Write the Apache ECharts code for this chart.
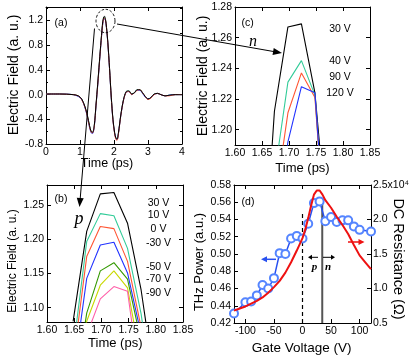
<!DOCTYPE html>
<html><head><meta charset="utf-8">
<script src="https://cdn.jsdelivr.net/npm/echarts@6/dist/echarts.min.js"></script>
<style>html,body{margin:0;padding:0;background:#fff;}#c{width:413px;height:362px;}</style>
</head><body><div id="c"></div>
<script>
// ---------- panel (a): full waveforms ----------
const aTime = [0, 0.4, 0.8, 0.95, 1.05, 1.15, 1.22, 1.28, 1.33, 1.37, 1.42, 1.47, 1.52, 1.57, 1.62, 1.67, 1.7, 1.72, 1.75, 1.78, 1.82, 1.87, 1.92, 1.97, 2.02, 2.06, 2.09, 2.13, 2.2, 2.28, 2.36, 2.44, 2.52, 2.6, 2.68, 2.76, 2.84, 2.92, 3.0, 3.08, 3.18, 3.28, 3.38, 3.5, 3.62, 3.8, 4.0];
const aBlack = [0.01,0.01,0.0,-0.02,-0.07,-0.2,-0.34,-0.5,-0.6,-0.61,-0.5,-0.17,0.17,0.53,0.88,1.19,1.26,1.27,1.22,1.09,0.84,0.42,-0.04,-0.4,-0.62,-0.71,-0.72,-0.62,-0.33,-0.08,0.05,0.06,0.01,0.03,0.08,0.08,0.03,-0.03,-0.07,-0.05,0.01,0.02,0.0,-0.02,-0.01,0.0,0.0];
const aGreen = [0.01,0.01,0.0,-0.02,-0.07,-0.21,-0.35,-0.51,-0.6,-0.62,-0.5,-0.18,0.16,0.52,0.87,1.17,1.24,1.25,1.21,1.08,0.83,0.41,-0.05,-0.41,-0.63,-0.71,-0.73,-0.63,-0.33,-0.08,0.05,0.06,0.01,0.03,0.08,0.08,0.03,-0.03,-0.07,-0.05,0.01,0.02,0.0,-0.02,-0.01,0.0,0.0];
const aRed = [0.01,0.01,0.0,-0.02,-0.08,-0.21,-0.36,-0.52,-0.61,-0.62,-0.51,-0.18,0.15,0.51,0.86,1.16,1.23,1.24,1.21,1.08,0.83,0.41,-0.05,-0.42,-0.64,-0.73,-0.74,-0.64,-0.34,-0.09,0.04,0.05,0.0,0.03,0.07,0.08,0.03,-0.03,-0.08,-0.06,0.0,0.02,0.0,-0.02,-0.02,0.0,0.0];
const aBlue = [0.01,0.01,0.0,-0.03,-0.08,-0.22,-0.37,-0.53,-0.62,-0.63,-0.52,-0.19,0.14,0.5,0.85,1.15,1.22,1.23,1.2,1.07,0.82,0.4,-0.06,-0.42,-0.63,-0.72,-0.73,-0.63,-0.34,-0.09,0.04,0.05,0.0,0.03,0.07,0.07,0.02,-0.04,-0.07,-0.05,0.0,0.02,0.0,-0.02,-0.01,0.0,0.0];
const aXTicks = ['0','1','2','3','4'];
const aYTicks = ['-0.8','-0.4','0.0','0.4','0.8','1.2'];

// ---------- panels (b),(c): zoom on the peak ----------
const zTime = [1.648, 1.673, 1.698, 1.723, 1.748, 1.773, 1.798];
const b30V  = [1.080, 1.212, 1.267, 1.269, 1.224, 1.126, 0.99];
const b10V  = [1.037, 1.197, 1.238, 1.235, 1.187, 1.091, 0.95];
const b0V   = [1.020, 1.175, 1.219, 1.216, 1.168, 1.071, 0.93];
const bm30V = [0.998, 1.143, 1.192, 1.196, 1.151, 1.061, 0.92];
const bm50V = [0.960, 1.092, 1.154, 1.166, 1.142, 1.050, 0.91];
const bm70V = [0.950, 1.080, 1.133, 1.154, 1.129, 1.020, 0.90];
const bm90V = [0.930, 1.060, 1.113, 1.131, 1.124, 0.980, 0.88];
const bNames = ['30 V','10 V','0 V','-30 V','-50 V','-70 V','-90 V'];
const c30V  = [1.080, 1.212, 1.267, 1.269, 1.224, 1.126, 0.99];
const c40V  = [1.080, 1.170, 1.231, 1.245, 1.2225, 1.100, 0.98];
const c90V  = [1.060, 1.150, 1.211, 1.237, 1.221, 1.100, 0.98];
const c120V = [1.040, 1.130, 1.192, 1.228, 1.224, 1.100, 0.98];
const cNames = ['30 V','40 V','90 V','120 V'];
const zXTicks = ['1.60','1.65','1.70','1.75','1.80','1.85'];
const bYTicks = ['1.10','1.15','1.20','1.25'];
const cYTicks = ['1.20','1.22','1.24','1.26','1.28'];

// ---------- panel (d): gate voltage ----------
const dGate  = [-120,-100,-90,-80,-70,-60,-50,-40,-30,-20,-10,0,10,20,30,40,50,60,70,80,90,100,120];
const dPower = [0.431,0.444,0.445,0.452,0.464,0.460,0.472,0.501,0.500,0.518,0.521,0.518,0.535,0.559,0.561,0.538,0.543,0.537,0.539,0.539,0.532,0.528,0.526];
const dResV  = [-120,-110,-100,-90,-80,-70,-60,-50,-40,-30,-20,-10,0,5,10,15,20,25,30,35,40,50,60,70,80,90,100,110,120];
const dRes   = [0.68,0.71,0.74,0.78,0.82,0.87,0.94,1.02,1.11,1.23,1.38,1.55,1.73,1.86,2.02,2.2,2.36,2.42,2.42,2.36,2.28,2.17,2.04,1.92,1.79,1.63,1.48,1.38,1.28];
const dXTicks  = ['-100','-50','0','50','100'];
const dYTicks  = ['0.42','0.44','0.46','0.48','0.50','0.52','0.54','0.56','0.58'];
const dY2Ticks = ['0.5','1.0','1.5','2.0','2.5x10\u2074'];

// ---------- helpers ----------
const FONT = "'Liberation Sans', Arial, sans-serif";
const NARROW = "'Liberation Sans Narrow', 'Liberation Sans', Arial, sans-serif";
const fmt = ticks => v => { const t = ticks.find(s => Math.abs(parseFloat(s) - v) < 1e-6); return t === undefined ? '' : t; };
const pairs = (xs, ys) => xs.map((x, i) => [x, ys[i]]);

function xAx(grid, pos, min, max, interval, ticks, extra) {
  return Object.assign({
    type: 'value', gridIndex: grid, position: pos, min, max, interval,
    axisLine: { show: true, onZero: false, lineStyle: { color: '#000', width: 1 } },
    axisTick: { show: true, inside: true, length: 4, lineStyle: { color: '#000' } },
    splitLine: { show: false },
    axisLabel: { show: !!ticks, formatter: ticks ? fmt(ticks) : null, color: '#000', fontSize: 10.5, fontFamily: FONT, margin: 3, showMinLabel: true, showMaxLabel: true }
  }, extra || {});
}
function yAx(grid, pos, min, max, interval, ticks, extra) {
  return Object.assign({
    type: 'value', gridIndex: grid, position: pos, min, max, interval,
    axisLine: { show: true, onZero: false, lineStyle: { color: '#000', width: 1 } },
    axisTick: { show: true, inside: true, length: 4, lineStyle: { color: '#000' } },
    splitLine: { show: false },
    axisLabel: { show: !!ticks, formatter: ticks ? fmt(ticks) : null, color: '#000', fontSize: 10.5, fontFamily: FONT, margin: 3 }
  }, extra || {});
}
function ln(xi, yi, xs, ys, color, w, extra) {
  return Object.assign({ type: 'line', xAxisIndex: xi, yAxisIndex: yi, data: pairs(xs, ys), showSymbol: false, symbol: 'none',
    lineStyle: { color, width: w }, itemStyle: { color }, clip: true, silent: true, z: 3 }, extra || {});
}
function arrow(x1, y1, x2, y2, color, lw, L, W) {
  const a = Math.atan2(y2 - y1, x2 - x1), c = Math.cos(a), s = Math.sin(a);
  const bx = x2 - L * c, by = y2 - L * s;
  return [
    { type: 'line', shape: { x1, y1, x2: bx + 1 * c, y2: by + 1 * s }, style: { stroke: color, lineWidth: lw }, z: 100 },
    { type: 'polygon', shape: { points: [[x2, y2], [bx - W * s, by + W * c], [bx + W * s, by - W * c]] }, style: { fill: color }, z: 100 }
  ];
}
function txt(x, y, text, size, opts) {
  return Object.assign({ type: 'text', x, y, z: 100,
    style: Object.assign({ text, fontSize: size, fontFamily: FONT, fill: '#000', align: 'center', verticalAlign: 'middle' }, (opts && opts.style) || {}) },
    opts && opts.rot !== undefined ? { rotation: opts.rot } : {});
}

const BLACK = '#000000', TEAL = '#33cc99', ORANGE = '#ff5533', BLUE = '#2233ff', DGREEN = '#339900', YGREEN = '#c8d800', PINK = '#ff5fa8';

const option = {
  animation: false,
  backgroundColor: '#fff',
  textStyle: { fontFamily: FONT },
  grid: [
    { left: 46, top: 7, width: 136, height: 137 },   // (a)
    { left: 235, top: 7, width: 135, height: 138 },  // (c)
    { left: 47, top: 185, width: 136, height: 137 }, // (b)
    { left: 234, top: 185, width: 137, height: 138 } // (d)
  ],
  xAxis: [
    xAx(0, 'bottom', 0, 4, 1, aXTicks),
    xAx(0, 'top', 0, 4, 1, null),
    xAx(1, 'bottom', 1.6, 1.85, 0.05, zXTicks, {}),
    xAx(1, 'top', 1.6, 1.85, 0.05, null),
    xAx(2, 'bottom', 1.6, 1.85, 0.05, zXTicks),
    xAx(2, 'top', 1.6, 1.85, 0.05, null),
    xAx(3, 'bottom', -120, 120, undefined, dXTicks),
    xAx(3, 'top', -120, 120, undefined, null)
  ],
  yAxis: [
    yAx(0, 'left', -0.8, 1.42, 0.4, aYTicks, { minorTick: { show: true, splitNumber: 2, length: 2, lineStyle: { color: '#000' } } }),
    yAx(0, 'right', -0.8, 1.42, 0.4, null, { minorTick: { show: true, splitNumber: 2, length: 2, lineStyle: { color: '#000' } } }),
    yAx(1, 'left', 1.19, 1.28, undefined, cYTicks),
    yAx(1, 'right', 1.19, 1.28, undefined, null),
    yAx(2, 'left', 1.079, 1.28, undefined, bYTicks),
    yAx(2, 'right', 1.079, 1.28, undefined, null),
    yAx(3, 'left', 0.42, 0.58, 0.02, dYTicks),
    yAx(3, 'right', 0.5, 2.5, 0.5, dY2Ticks)
  ],
  series: [
    // (a)
    ln(0, 0, aTime, aGreen, TEAL, 1, { smooth: 0.3 }),
    ln(0, 0, aTime, aBlue, BLUE, 1, { smooth: 0.3 }),
    ln(0, 0, aTime, aRed, ORANGE, 1, { smooth: 0.3 }),
    ln(0, 0, aTime, aBlack, BLACK, 1, { smooth: 0.3 }),
    // (c)
    ln(2, 2, zTime, c30V, BLACK, 1.1),
    ln(2, 2, zTime, c40V, TEAL, 1.1),
    ln(2, 2, zTime, c90V, ORANGE, 1.1),
    ln(2, 2, zTime, c120V, BLUE, 1.1),
    // (b)
    ln(4, 4, zTime, b30V, BLACK, 1.1),
    ln(4, 4, zTime, b10V, TEAL, 1.1),
    ln(4, 4, zTime, b0V, ORANGE, 1.1),
    ln(4, 4, zTime, bm30V, BLUE, 1.1),
    ln(4, 4, zTime, bm50V, DGREEN, 1.1),
    ln(4, 4, zTime, bm70V, YGREEN, 1.1),
    ln(4, 4, zTime, bm90V, PINK, 1.1),
    // (d)
    ln(6, 6, [0, 0], [0.42, 0.549], '#000', 1.2, { lineStyle: { color: '#000', width: 1.2, type: [4, 3] } }),
    ln(6, 6, [34.6, 34.6], [0.42, 0.562], '#555', 2),
    { type: 'line', xAxisIndex: 6, yAxisIndex: 6, data: pairs(dGate, dPower), symbol: 'emptyCircle', symbolSize: 8, showSymbol: true,
      lineStyle: { color: '#2850f0', width: 1.5 }, itemStyle: { color: '#5585ff', borderColor: '#5585ff', borderWidth: 0.9 }, silent: true, z: 3 },
    ln(6, 7, dResV, dRes, '#ee1111', 2, { z: 4 })
  ],
  graphic: [].concat(
    // dashed ellipse around peak
    [{ type: 'circle', x: 105.5, y: 21, scaleX: 9.5 / 11.7, shape: { cx: 0, cy: 0, r: 11.7 }, style: { fill: 'none', stroke: '#000', lineWidth: 1, lineDash: [3, 2], strokeNoScale: true }, z: 100 }],
    arrow(117, 24, 282, 53, '#000', 1, 9, 3.5),
    arrow(94.5, 28.5, 79.5, 207, '#000', 1, 9, 3.5),
    [txt(253, 42, 'n', 16, { style: { fontFamily: "'Liberation Serif', serif", fontStyle: 'italic' } }),
     txt(79, 219, 'p', 18, { style: { fontFamily: "'Liberation Serif', serif", fontStyle: 'italic' } })],
    // (d) arrows
    arrow(276, 259.3, 261, 259.3, '#2850f0', 1.5, 6, 3),
    arrow(348, 242, 364.5, 242, '#ee1111', 1.5, 6, 3),
    arrow(318, 257.3, 308, 257.3, '#000', 1, 4, 2.5),
    arrow(323, 257.3, 335, 257.3, '#000', 1, 4, 2.5),
    [txt(314.5, 267, 'p', 11, { style: { fontFamily: "'Liberation Serif', serif", fontStyle: 'italic', fontWeight: 'bold' } }),
     txt(328, 267, 'n', 11, { style: { fontFamily: "'Liberation Serif', serif", fontStyle: 'italic', fontWeight: 'bold' } })],
    // panel labels
    [txt(61, 23, '(a)', 10.5), txt(247.5, 23.3, '(c)', 10.5), txt(61, 199, '(b)', 10.5), txt(248, 202, '(d)', 10.5)],
    // voltage labels
    cNames.map((s, i) => txt(340, [29.3, 61, 76.7, 92.7][i], s, 10.5)),
    bNames.map((s, i) => txt(158.5, [203.3, 215, 229.3, 243.3, 267.3, 279.3, 292.7][i], s, 10.5)),
    // axis titles
    [txt(14, 75, 'Electric Field (a. u.)', 14, { rot: Math.PI / 2 }),
     txt(107, 164, 'Time (ps)', 12.5, { style: { fontFamily: NARROW } }),
     txt(203.5, 76, 'Electric Field (a. u.)', 14, { rot: Math.PI / 2 }),
     txt(302.5, 168.3, 'Time (ps)', 13),
     txt(12.5, 261, 'Electric Field (a. u.)', 12, { rot: Math.PI / 2 }),
     txt(115.3, 343.3, 'Time (ps)', 13),
     txt(199, 262, 'THz Power (a.u.)', 13, { rot: Math.PI / 2 }),
     txt(397.5, 259, 'DC Resistance (\u03A9)', 14.5, { rot: -Math.PI / 2 }),
     txt(301.7, 348.3, 'Gate Voltage (V)', 13.5)]
  )
};
option.yAxis[2].axisLabel.showMinLabel = false;
option.yAxis[4].axisLabel.showMinLabel = false;
option.yAxis[4].axisLabel.showMaxLabel = false;
option.yAxis[0].axisLabel.showMaxLabel = false;
option.xAxis[6].axisLabel.showMinLabel = false;
option.xAxis[6].axisLabel.showMaxLabel = false;
option.yAxis[7].axisLabel.margin = 2;

const chart = echarts.init(document.getElementById('c'), null, { renderer: 'canvas' });
chart.setOption(option);
</script>
</body></html>
